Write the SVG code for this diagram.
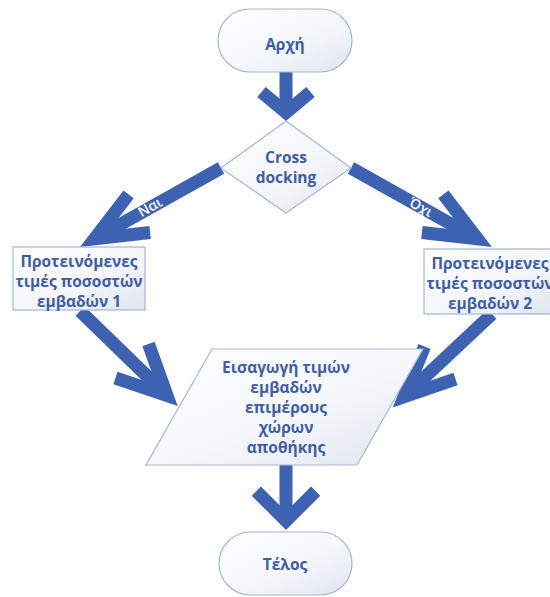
<svg xmlns="http://www.w3.org/2000/svg" width="550" height="597" viewBox="0 0 550 597">
  <defs>
    <linearGradient id="nodeFill" x1="0" y1="0" x2="1" y2="1">
      <stop offset="0" stop-color="#ffffff"/>
      <stop offset="0.55" stop-color="#f5f7fb"/>
      <stop offset="1" stop-color="#dfe5ef"/>
    </linearGradient>
  </defs>
  <style>
    .node { fill: url(#nodeFill); stroke: #a7b5d2; stroke-width: 1.2; }
    .txt { font-family: "Open Sans", "Liberation Sans", sans-serif; font-weight: 700; font-size: 15.5px; fill: #3d5dab; text-anchor: middle; }
    .shaft { stroke: #3e62b2; stroke-width: 13; fill: none; stroke-linecap: butt; }
    .head { stroke: #3e62b2; stroke-width: 13; fill: none; stroke-linejoin: miter; stroke-miterlimit: 6; }
    .elbl { font-family: "Open Sans", "Liberation Sans", sans-serif; font-weight: 600; font-size: 14px; fill: #ffffff; text-anchor: middle; }
  </style>

  <!-- connectors: thick block arrows with open chevron heads -->
  <g id="connectors">
    <g id="e-start-decision">
      <line class="shaft" x1="286" y1="72" x2="286" y2="112.5"/>
      <path class="head" d="M261.5 91.9 L286 112.5 L310.5 91.9"/>
    </g>
    <g id="e-decision-p1">
      <line class="shaft" x1="221" y1="168" x2="94.5" y2="238.8"/>
      <path class="head" d="M128.6 194.4 L94.5 238.8 L150.1 232.5"/>
      <text class="elbl" transform="translate(150 207) rotate(-29.5)" dy="0.35em">Ναι</text>
    </g>
    <g id="e-decision-p2">
      <line class="shaft" x1="351" y1="168" x2="477.5" y2="238.8"/>
      <path class="head" d="M443.4 194.4 L477.5 238.8 L421.9 232.5"/>
      <text class="elbl" transform="translate(421 207) rotate(29.5)" dy="0.35em">Όχι</text>
    </g>
    <g id="e-p1-input">
      <line class="shaft" x1="80" y1="311" x2="167" y2="395.5"/>
      <path class="head" d="M148.5 344 L167 395.5 L115.5 378"/>
    </g>
    <g id="e-p2-input">
      <line class="shaft" x1="492" y1="314" x2="404.1" y2="396.6"/>
      <path class="head" d="M424.5 346.5 L404.1 396.6 L455.5 379"/>
    </g>
    <g id="e-input-end">
      <line class="shaft" x1="286" y1="465" x2="286" y2="520.8"/>
      <path class="head" d="M256.3 491.1 L286 520.8 L315.7 491.1"/>
    </g>
  </g>

  <!-- nodes -->
  <g id="start">
    <rect class="node" x="218" y="9" width="134" height="63" rx="31.5" ry="31.5"/>
    <text class="txt" x="285" y="50">Αρχή</text>
  </g>

  <g id="decision">
    <polygon class="node" points="286,121 351,168 286,213 221,168"/>
    <text class="txt" x="286" y="163">Cross</text>
    <text class="txt" x="286" y="183">docking</text>
  </g>

  <g id="proposal-1">
    <rect class="node" x="13" y="247" width="132" height="63"/>
    <text class="txt" x="79" y="267">Προτεινόμενες</text>
    <text class="txt" x="79" y="287">τιμές ποσοστών</text>
    <text class="txt" x="79" y="307">εμβαδών 1</text>
  </g>

  <g id="proposal-2">
    <rect class="node" x="424" y="249" width="132" height="65"/>
    <text class="txt" x="490" y="269">Προτεινόμενες</text>
    <text class="txt" x="490" y="289">τιμές ποσοστών</text>
    <text class="txt" x="490" y="309">εμβαδών 2</text>
  </g>

  <g id="input">
    <polygon class="node" points="212,349 423,349 357,465 146,465"/>
    <text class="txt" x="286" y="373">Εισαγωγή τιμών</text>
    <text class="txt" x="286" y="393">εμβαδών</text>
    <text class="txt" x="286" y="413">επιμέρους</text>
    <text class="txt" x="286" y="433">χώρων</text>
    <text class="txt" x="286" y="453">αποθήκης</text>
  </g>

  <g id="end">
    <rect class="node" x="219" y="532" width="133" height="63" rx="31.5" ry="31.5"/>
    <text class="txt" x="285" y="570">Τέλος</text>
  </g>
</svg>
